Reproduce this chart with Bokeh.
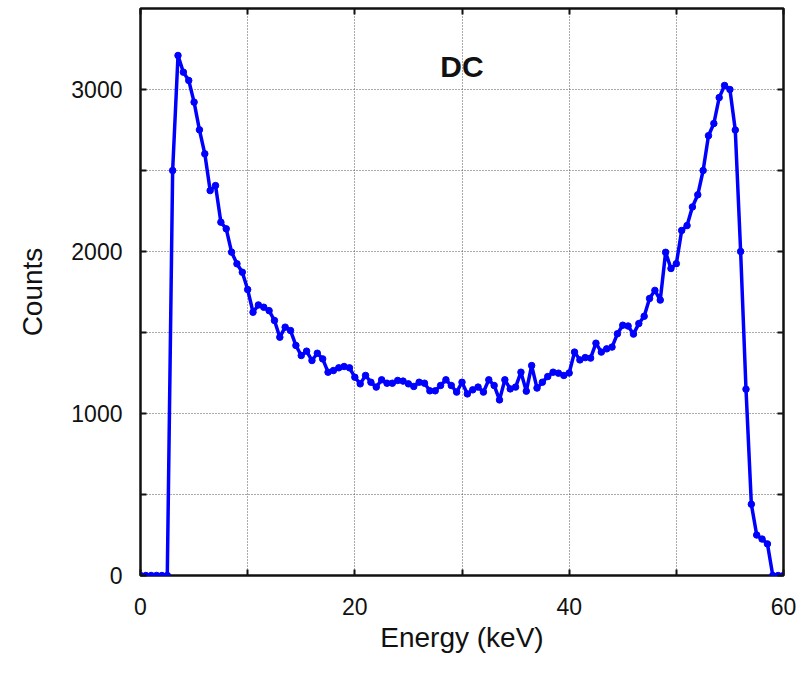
import numpy as np
from bokeh.plotting import figure
from bokeh.models import FixedTicker, LinearAxis, Range1d, Label
from bokeh.embed import file_html
from bokeh.resources import INLINE

# Energy (keV), 0.5 keV bins
energy = [i * 0.5 for i in range(121)]

counts = [
    0, 0, 0, 0, 0, 0,                      # 0.0 - 2.5
    2500, 3210, 3107, 3056, 2922, 2751,    # 3.0 - 5.5
    2603, 2376, 2407, 2181, 2140, 1996,    # 6.0 - 8.5
    1924, 1872, 1765, 1625, 1670, 1656,    # 9.0 - 11.5
    1635, 1574, 1471, 1533, 1512, 1420,    # 12.0 - 14.5
    1358, 1385, 1327, 1372, 1337, 1255,    # 15.0 - 17.5
    1265, 1282, 1290, 1282, 1224, 1183,    # 18.0 - 20.5
    1235, 1193, 1163, 1208, 1187, 1187,    # 21.0 - 23.5
    1204, 1200, 1183, 1167, 1193, 1187,    # 24.0 - 26.5
    1140, 1140, 1173, 1208, 1173, 1132,    # 27.0 - 29.5
    1193, 1121, 1146, 1163, 1132, 1208,    # 30.0 - 32.5
    1173, 1084, 1208, 1152, 1163, 1255,    # 33.0 - 35.5
    1138, 1296, 1157, 1193, 1228, 1255,    # 36.0 - 38.5
    1249, 1235, 1250, 1379, 1331, 1345,    # 39.0 - 41.5
    1342, 1434, 1379, 1399, 1410, 1492,    # 42.0 - 44.5
    1545, 1540, 1490, 1555, 1600, 1710,    # 45.0 - 47.5
    1760, 1700, 1995, 1895, 1925, 2130,    # 48.0 - 50.5
    2160, 2275, 2350, 2500, 2715, 2790,    # 51.0 - 53.5
    2950, 3025, 3000, 2750, 2000, 1150,    # 54.0 - 56.5
    440, 250, 225, 195, 0, 0,              # 57.0 - 59.5
    0,                                     # 60.0
]

x_labeled = [0, 20, 40, 60]
x_unlabeled = [10, 30, 50]
x_grid = [0, 10, 20, 30, 40, 50, 60]
y_labeled = [0, 1000, 2000, 3000]
y_unlabeled = [500, 1500, 2500]
y_grid = [0, 500, 1000, 1500, 2000, 2500, 3000]

FONT = "Liberation Sans"
INK = "#111111"

p = figure(width=804, height=678, output_backend="svg", toolbar_location=None,
           x_range=Range1d(0, 60), y_range=Range1d(0, 3500),
           min_border_left=140, min_border_right=21, min_border_top=8,
           min_border_bottom=103)

p.background_fill_color = "white"
p.border_fill_color = "white"
p.outline_line_color = INK
p.outline_line_width = 2.5

for ax in p.xaxis:
    ax.ticker = FixedTicker(ticks=x_labeled, minor_ticks=x_unlabeled)
    ax.axis_label = "Energy (keV)"
for ax in p.yaxis:
    ax.ticker = FixedTicker(ticks=y_labeled, minor_ticks=y_unlabeled)
    ax.axis_label = "Counts"

for ax in list(p.xaxis) + list(p.yaxis):
    ax.axis_line_color = None
    ax.major_tick_in = 6
    ax.major_tick_out = 0
    ax.major_tick_line_color = INK
    ax.major_tick_line_width = 2
    ax.minor_tick_in = 6
    ax.minor_tick_out = 0
    ax.minor_tick_line_color = INK
    ax.minor_tick_line_width = 2
    ax.major_label_text_font = FONT
    ax.major_label_text_font_size = "23px"
    ax.major_label_text_color = INK
    ax.axis_label_text_font = FONT
    ax.axis_label_text_font_size = "28px"
    ax.axis_label_text_font_style = "normal"
    ax.axis_label_text_color = INK

p.xaxis.major_label_standoff = 22
p.xaxis.axis_label_standoff = 4
p.yaxis.major_label_standoff = 18
p.yaxis.axis_label_standoff = 20

p.xgrid.ticker = FixedTicker(ticks=x_grid)
p.ygrid.ticker = FixedTicker(ticks=y_grid)
for g in (p.xgrid, p.ygrid):
    g.grid_line_color = "#555555"
    g.grid_line_dash = "1 2"
    g.grid_line_width = 1

# mirror ticks on top and right (tick marks only, no labels)
def mirror(ticks):
    return LinearAxis(ticker=FixedTicker(ticks=[], minor_ticks=ticks),
                      axis_line_color=None, major_tick_line_color=None,
                      minor_tick_in=6, minor_tick_out=0,
                      minor_tick_line_color=INK, minor_tick_line_width=2,
                      major_label_standoff=0)

p.add_layout(mirror(x_grid), "above")
p.add_layout(mirror(y_grid), "right")

p.line(energy, counts, line_color="#0000FF", line_width=3.5)
p.scatter(energy, counts, size=6.5, marker="circle", fill_color="#0000FF", line_color="#0000FF")

p.add_layout(Label(x=30, y=3040, text="DC", text_align="center", text_baseline="bottom",
                   text_font=FONT, text_font_size="30px", text_font_style="bold",
                   text_color=INK))

open("out.html", "w").write(file_html(p, INLINE))
